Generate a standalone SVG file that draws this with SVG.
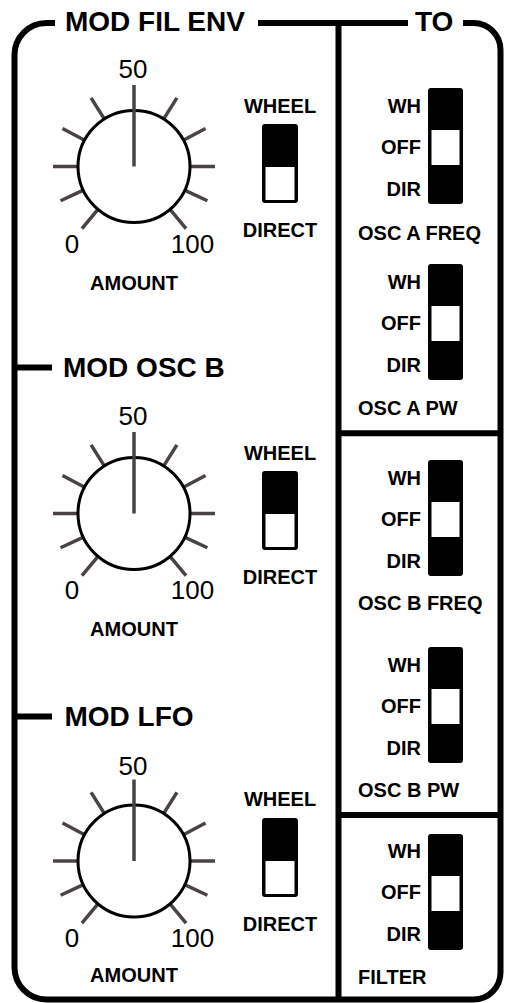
<svg xmlns="http://www.w3.org/2000/svg" xmlns:xlink="http://www.w3.org/1999/xlink" width="505" height="1003" viewBox="0 0 505 1003">
<style>
text{font-family:"Liberation Sans",Arial,Helvetica,sans-serif;fill:#000}
.title{font-size:28px;font-weight:bold}
.lbl{font-size:20px;font-weight:bold}
.mid{text-anchor:middle}
.end{text-anchor:end}
.num{font-size:26px}
.frame{fill:none;stroke:#000;stroke-width:6}
.tick{stroke:#4a4343;stroke-width:3.5}
</style>
<defs>
<g id="knob">
<g class="tick">
<line x1="0" y1="-57" x2="0" y2="-81" transform="rotate(-140)"/>
<line x1="0" y1="-57" x2="0" y2="-81" transform="rotate(-115)"/>
<line x1="0" y1="-57" x2="0" y2="-81" transform="rotate(-90)"/>
<line x1="0" y1="-57" x2="0" y2="-81" transform="rotate(-62)"/>
<line x1="0" y1="-57" x2="0" y2="-81" transform="rotate(-32)"/>
<line x1="0" y1="-57" x2="0" y2="-81" transform="rotate(32)"/>
<line x1="0" y1="-57" x2="0" y2="-81" transform="rotate(62)"/>
<line x1="0" y1="-57" x2="0" y2="-81" transform="rotate(90)"/>
<line x1="0" y1="-57" x2="0" y2="-81" transform="rotate(115)"/>
<line x1="0" y1="-57" x2="0" y2="-81" transform="rotate(140)"/>
</g>
<circle r="56" fill="#fff" stroke="#000" stroke-width="3"/>
<line class="tick" x1="0" y1="0" x2="0" y2="-81.5"/>
</g>
<g id="sw2">
<rect x="0" y="0" width="36" height="79" rx="3" fill="#000"/>
<rect x="3.5" y="43" width="29" height="33" fill="#fff"/>
</g>
<g id="sw3">
<rect x="0" y="0" width="35" height="116" rx="3" fill="#000"/>
<rect x="3.5" y="42" width="28" height="35" fill="#fff"/>
</g>
</defs>

<g id="frame">
<path class="frame" d="M55,23 H46.5 A32,32 0 0 0 14.5,55 V967.5 A32,32 0 0 0 46.5,999.5 H473.5 A27,27 0 0 0 500.5,972.5 V50 A27,27 0 0 0 473.5,23 H463"/>
<path class="frame" d="M258,23 H408"/>
<path class="frame" d="M338.5,23 V999.5"/>
<path class="frame" d="M338.5,433.3 H500.5 M338.5,815 H500.5"/>
<path class="frame" d="M14.5,367.5 H52 M14.5,716.5 H52"/>
</g>

<g id="titles">
<text class="title" x="65" y="31">MOD FIL ENV</text>
<text class="title" x="415" y="31">TO</text>
<text class="title" x="63" y="377">MOD OSC B</text>
<text class="title" x="64.5" y="726">MOD LFO</text>
</g>

<g id="mod-fil-env-knob">
<use xlink:href="#knob" transform="translate(134,166.5)"/>
<text class="num mid" x="133" y="78">50</text>
<text class="num mid" x="72" y="253">0</text>
<text class="num mid" x="192.5" y="253">100</text>
<text class="lbl mid" x="134" y="290">AMOUNT</text>
</g>
<g id="mod-fil-env-switch">
<text class="lbl mid" x="280" y="113">WHEEL</text>
<use xlink:href="#sw2" x="262" y="124"/>
<text class="lbl mid" x="280" y="237">DIRECT</text>
</g>

<g id="mod-osc-b-knob">
<use xlink:href="#knob" transform="translate(134,513.5)"/>
<text class="num mid" x="133" y="424.5">50</text>
<text class="num mid" x="72" y="599">0</text>
<text class="num mid" x="192.5" y="599">100</text>
<text class="lbl mid" x="134" y="636">AMOUNT</text>
</g>
<g id="mod-osc-b-switch">
<text class="lbl mid" x="280" y="460">WHEEL</text>
<use xlink:href="#sw2" x="262" y="471"/>
<text class="lbl mid" x="280" y="584">DIRECT</text>
</g>

<g id="mod-lfo-knob">
<use xlink:href="#knob" transform="translate(134,861)"/>
<text class="num mid" x="133" y="775">50</text>
<text class="num mid" x="72" y="947">0</text>
<text class="num mid" x="192.5" y="947">100</text>
<text class="lbl mid" x="134" y="982">AMOUNT</text>
</g>
<g id="mod-lfo-switch">
<text class="lbl mid" x="280" y="806">WHEEL</text>
<use xlink:href="#sw2" x="262" y="818"/>
<text class="lbl mid" x="280" y="931">DIRECT</text>
</g>

<g id="osc-a-freq">
<use xlink:href="#sw3" x="428" y="88"/>
<text class="lbl end" x="421" y="112.5">WH</text>
<text class="lbl end" x="421" y="154">OFF</text>
<text class="lbl end" x="421" y="195.5">DIR</text>
<text class="lbl" x="358" y="239.5">OSC A FREQ</text>
</g>
<g id="osc-a-pw">
<use xlink:href="#sw3" x="428" y="264"/>
<text class="lbl end" x="421" y="288.5">WH</text>
<text class="lbl end" x="421" y="330">OFF</text>
<text class="lbl end" x="421" y="371.5">DIR</text>
<text class="lbl" x="358" y="415">OSC A PW</text>
</g>
<g id="osc-b-freq">
<use xlink:href="#sw3" x="428" y="460"/>
<text class="lbl end" x="421" y="484.5">WH</text>
<text class="lbl end" x="421" y="526">OFF</text>
<text class="lbl end" x="421" y="567.5">DIR</text>
<text class="lbl" x="358" y="610">OSC B FREQ</text>
</g>
<g id="osc-b-pw">
<use xlink:href="#sw3" x="428" y="647"/>
<text class="lbl end" x="421" y="671.5">WH</text>
<text class="lbl end" x="421" y="713">OFF</text>
<text class="lbl end" x="421" y="754.5">DIR</text>
<text class="lbl" x="358" y="797">OSC B PW</text>
</g>
<g id="filter">
<use xlink:href="#sw3" x="428" y="834"/>
<text class="lbl end" x="421" y="857.5">WH</text>
<text class="lbl end" x="421" y="899">OFF</text>
<text class="lbl end" x="421" y="940.5">DIR</text>
<text class="lbl" x="358" y="984">FILTER</text>
</g>
</svg>
